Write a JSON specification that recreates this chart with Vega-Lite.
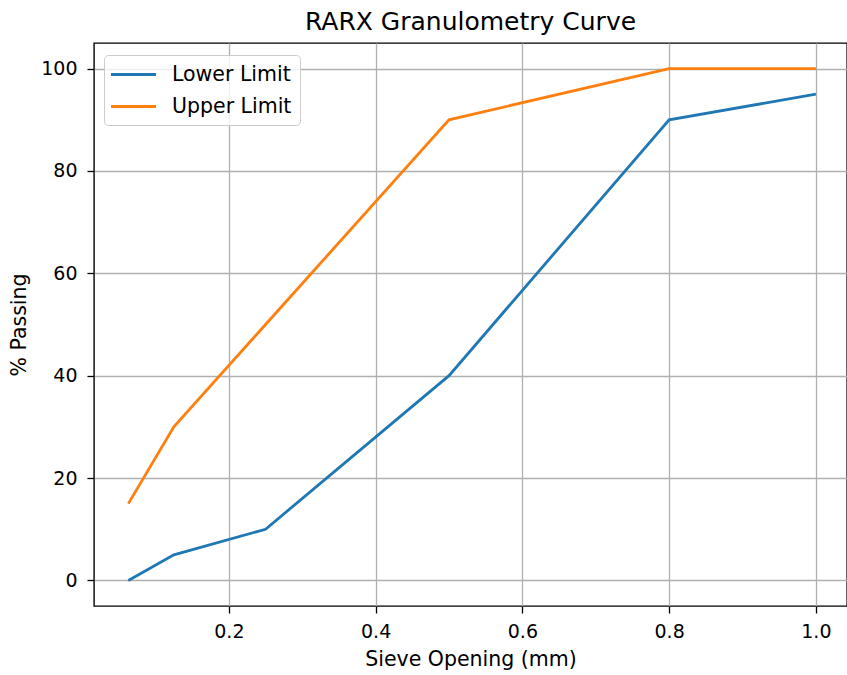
{
  "$schema": "https://vega.github.io/schema/vega-lite/v6.json",
  "width": 753,
  "height": 563,
  "autosize": {"type": "none"},
  "padding": {"left": 94, "top": 43, "right": 0, "bottom": 69},
  "background": "white",
  "title": {"text": "RARX Granulometry Curve", "font": "DejaVu Sans", "fontSize": 25, "fontWeight": "normal", "color": "black", "offset": 8, "anchor": "middle"},
  "config": {
    "view": {"stroke": "black", "strokeWidth": 1.4},
    "font": "DejaVu Sans"
  },
  "data": {
    "values": [
      {"size": 0.063, "passing": 0, "series": "Lower Limit"},
      {"size": 0.125, "passing": 5, "series": "Lower Limit"},
      {"size": 0.25, "passing": 10, "series": "Lower Limit"},
      {"size": 0.5, "passing": 40, "series": "Lower Limit"},
      {"size": 0.8, "passing": 90, "series": "Lower Limit"},
      {"size": 1.0, "passing": 95, "series": "Lower Limit"},
      {"size": 0.063, "passing": 15, "series": "Upper Limit"},
      {"size": 0.125, "passing": 30, "series": "Upper Limit"},
      {"size": 0.25, "passing": 50, "series": "Upper Limit"},
      {"size": 0.5, "passing": 90, "series": "Upper Limit"},
      {"size": 0.8, "passing": 100, "series": "Upper Limit"},
      {"size": 1.0, "passing": 100, "series": "Upper Limit"}
    ]
  },
  "mark": {"type": "line", "strokeWidth": 2.8, "clip": true},
  "encoding": {
    "x": {
      "field": "size", "type": "quantitative",
      "scale": {"domain": [0.0162, 1.0424], "nice": false, "zero": false},
      "axis": {
        "title": "Sieve Opening (mm)", "values": [0.2, 0.4, 0.6, 0.8, 1.0], "format": ".1f",
        "grid": true, "gridColor": "#b0b0b0", "gridWidth": 1.3,
        "domain": false, "tickColor": "black", "tickSize": 7, "tickWidth": 1.3,
        "labelFontSize": 19, "labelColor": "black", "labelPadding": 9, "labelFont": "DejaVu Sans",
        "titleFontSize": 20.5, "titleFontWeight": "normal", "titleColor": "black", "titlePadding": 8, "titleFont": "DejaVu Sans"
      }
    },
    "y": {
      "field": "passing", "type": "quantitative",
      "scale": {"domain": [-5, 105], "nice": false, "zero": false},
      "axis": {
        "title": "% Passing", "values": [0, 20, 40, 60, 80, 100],
        "grid": true, "gridColor": "#b0b0b0", "gridWidth": 1.3,
        "domain": false, "tickColor": "black", "tickSize": 7, "tickWidth": 1.3,
        "labelFontSize": 19, "labelColor": "black", "labelPadding": 10, "labelFont": "DejaVu Sans",
        "titleFontSize": 20.5, "titleFontWeight": "normal", "titleColor": "black", "titlePadding": 11, "titleFont": "DejaVu Sans"
      }
    },
    "color": {
      "field": "series", "type": "nominal",
      "scale": {"domain": ["Lower Limit", "Upper Limit"], "range": ["#1f77b4", "#ff7f0e"]},
      "legend": {
        "title": null, "orient": "none", "legendX": 10, "legendY": 12,
        "symbolType": "M-1.25,0H3.25", "symbolSize": 400, "symbolStrokeWidth": 2.8,
        "labelFontSize": 20.5, "labelColor": "black", "labelFont": "DejaVu Sans", "labelOffset": 37,
        "rowPadding": 10, "padding": 8,
        "fillColor": "rgba(255,255,255,0.8)", "strokeColor": "#cccccc", "cornerRadius": 4
      }
    }
  }
}
